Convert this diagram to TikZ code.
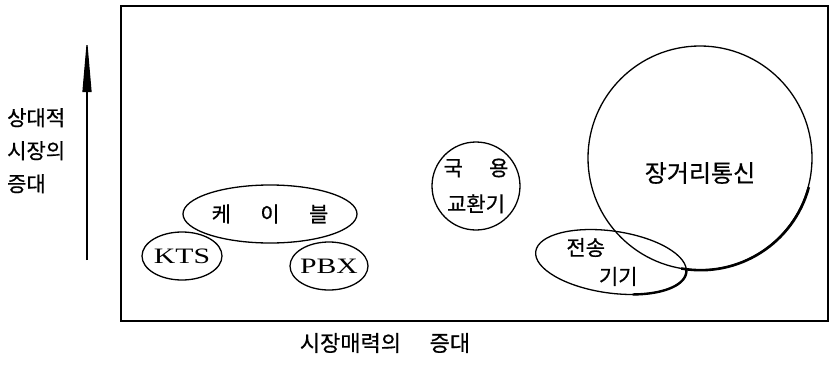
\documentclass[tikz,border=0pt]{standalone}
\usepackage{fontspec}
\newfontfamily\kr[FakeBold=0.6]{Noto Sans CJK KR}
\newfontfamily\lat[FakeStretch=1.35]{Liberation Serif}
\usetikzlibrary{shapes.geometric,arrows.meta}
\begin{document}
\begin{tikzpicture}[x=1pt,y=-1pt,
  shp/.style={draw,line width=1.3pt,inner sep=0pt},
  krt/.style={font=\kr\fontsize{21}{33}\selectfont},
  lt/.style={font=\lat\fontsize{22}{24}\selectfont}]
\useasboundingbox (0,0) rectangle (829,364);
% frame
\node[draw,line width=1.8pt,minimum width=707pt,minimum height=315pt,inner sep=0pt,anchor=north west] (frame) at (120,5) {};
% vertical arrow
\coordinate (abot) at (87,260);
\coordinate (atop) at (87,38);
\draw[line width=1.2pt,-{Triangle[length=54pt,width=9pt]}] (abot) -- (atop);
% axis labels
\node[krt,align=left,anchor=north west,inner sep=0pt] (ylab) at (7,108) {상대적\\시장의\\증대};
\node[krt,font=\kr\fontsize{22}{26}\selectfont,inner sep=0pt] (xlab) at (385,343) {시장매력의\hspace{1.3em}증대};
% shapes
\node[shp,ellipse,minimum width=174pt,minimum height=58pt,
  label={[krt]center:케\hspace{1.4em}이\hspace{1.4em}블}] (cable) at (270,214) {};
\node[shp,ellipse,minimum width=80pt,minimum height=48pt,
  label={[lt]center:KTS}] (kts) at (182,256) {};
\node[shp,ellipse,minimum width=78pt,minimum height=48pt,
  label={[lt]center:PBX}] (pbx) at (329,266) {};
\node[shp,circle,minimum size=88pt,
  label={[krt,align=center,font=\kr\fontsize{21}{36}\selectfont]center:국\hspace{1.25em}용\\교환기}] (exch) at (476,186) {};
\node[shp,circle,minimum size=224pt,
  label={[krt,font=\kr\fontsize{24}{28}\selectfont,yshift=-15pt]center:장거리통신}] (ldist) at (700,158) {};
\draw[line width=2.6pt] (ldist.-15) arc[start angle=-15,end angle=-100,radius=112pt];
\node[shp,ellipse,minimum width=152pt,minimum height=62pt,rotate=-8] (trans) at (611,262) {};
\node[krt,align=left,inner sep=0pt,font=\kr\fontsize{21}{29}\selectfont] (transt) at (602,262) {전송\\\hspace{1.55em}기기};
\draw[line width=2.4pt,shift={(611,262)},rotate=-8] plot[domain=-70:5,samples=40,smooth] ({76*cos(\x)},{-31*sin(\x)});
\end{tikzpicture}
\end{document}
